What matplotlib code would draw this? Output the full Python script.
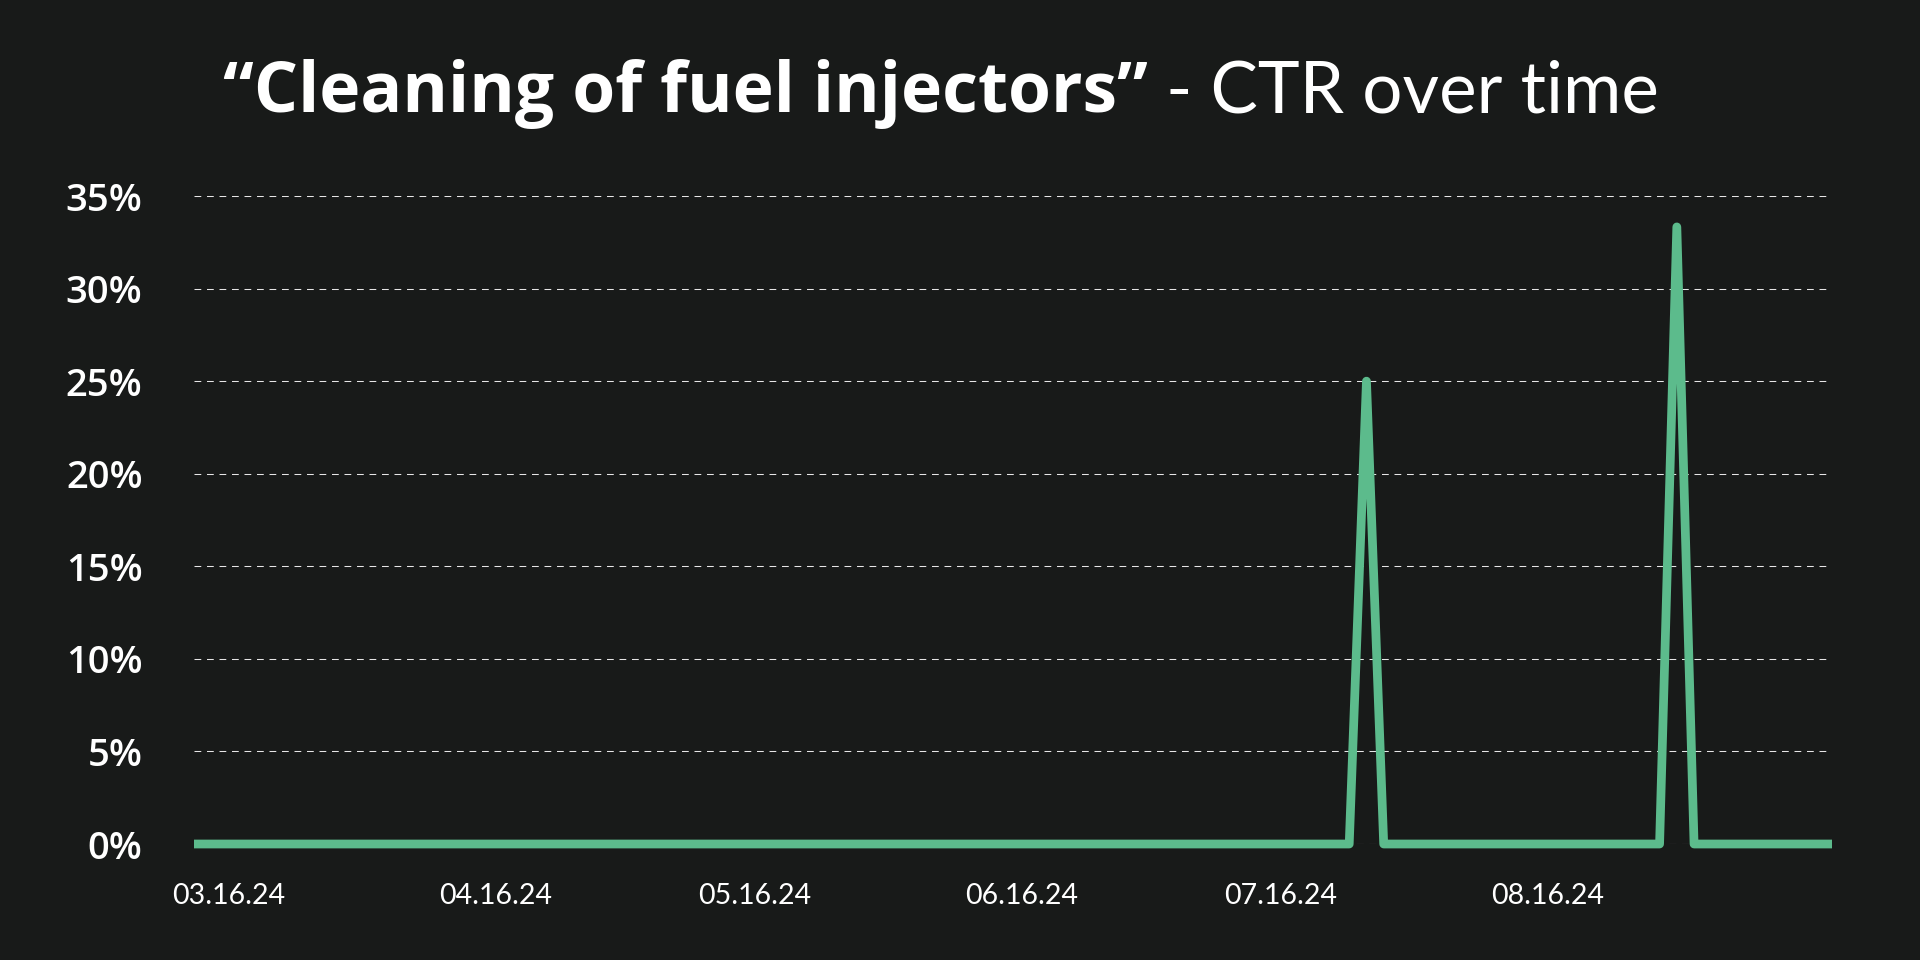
import matplotlib
matplotlib.use("Agg")
import matplotlib.pyplot as plt
import matplotlib.dates as mdates
import pandas as pd

# data (CTR in %)
dates = ["2024-03-12", "2024-07-24", "2024-07-26", "2024-07-28",
         "2024-08-29", "2024-08-31", "2024-09-02", "2024-09-18"]
ctr = [0, 0, 25, 0, 0, 33.33, 0, 0]

tick_dates = ["2024-03-16", "2024-04-16", "2024-05-16",
              "2024-06-16", "2024-07-16", "2024-08-16"]
y_ticks = [0, 5, 10, 15, 20, 25, 30, 35]

bg = "#181A19"
green = "#5CBB8C"

plt.rcParams["font.family"] = ["Lato", "DejaVu Sans"]

fig = plt.figure(figsize=(19.2, 9.6), dpi=100, facecolor=bg)
ax = fig.add_axes([0.10104, 0.12083, 0.853125, 0.675])
ax.set_facecolor(bg)

x = pd.to_datetime(dates)
ax.plot(x, ctr, color=green, lw=6.3, solid_capstyle="butt",
        solid_joinstyle="round", clip_on=False, zorder=3)

ax.set_xlim(x[0], x[-1])
ax.set_ylim(0, 35)

ax.set_yticks(y_ticks)
ax.set_yticklabels([f"{v}%" for v in y_ticks])
ax.set_xticks(pd.to_datetime(tick_dates))
ax.xaxis.set_major_formatter(mdates.DateFormatter("%m.%d.%y"))

ax.tick_params(axis="y", length=0, pad=37, labelcolor="white")
ax.tick_params(axis="x", length=0, pad=28, labelsize=20.5, labelcolor="white")
for lbl in ax.get_yticklabels():
    lbl.set_fontfamily(["Open Sans", "DejaVu Sans"])
    lbl.set_fontweight("semibold")
    lbl.set_fontsize(27.5)

ax.grid(axis="y", color="#e6e6e6", lw=0.75, linestyle=(0, (6.5, 5.5)))
ax.grid(axis="x", visible=False)
for s in ax.spines.values():
    s.set_visible(False)

t1 = fig.text(0.1160, 0.8833, "\u201cCleaning of fuel injectors\u201d",
              fontsize=50, fontweight="bold", color="white", va="baseline",
              family=["Open Sans", "DejaVu Sans"])
ax.annotate(" - CTR over time", xy=(1, 0.8833),
            xycoords=(t1, "figure fraction"),
            fontsize=51, color="white", va="baseline", ha="left")

fig.savefig("out.png", dpi=100, facecolor=bg)
